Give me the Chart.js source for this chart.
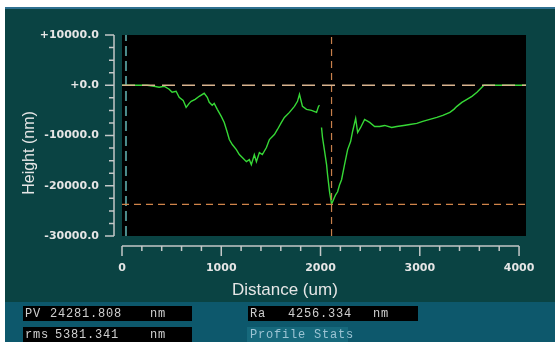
<!DOCTYPE html>
<html>
<head>
<meta charset="utf-8">
<script src="https://cdn.jsdelivr.net/npm/chart.js@4"></script>
<style>
  body { margin: 0; background: #fff; width: 555px; height: 342px; overflow: hidden; position: relative; }
  #frame { position: absolute; left: 5px; top: 7px; width: 550px; height: 335px; background: #0a4343; border-top: 2px solid #2f7090; box-sizing: border-box; }
  #stats { position: absolute; left: 5px; top: 302px; width: 550px; height: 40px; background: #0d586c; }
  canvas { position: absolute; left: 0; top: 0; }
  .box { position: absolute; background: #000; height: 15px; }
  .t { position: absolute; font: 12px "Liberation Mono", monospace; letter-spacing: 0.8px; color: #d0d0d0; top: 1px; white-space: pre; }
  .title { position: absolute; font: 17px "Liberation Sans", Arial, sans-serif; color: #e6e6e6; white-space: nowrap; }
</style>
</head>
<body>
<div id="frame"></div>
<div id="stats"></div>
<canvas id="profile" width="555" height="342"></canvas>

<div class="title" style="left:232px; top:280px;">Distance (um)</div>
<div class="title" style="font-size:16px; left:-31px; top:144px; width:120px; text-align:center; transform:rotate(-90deg);">Height (nm)</div>

<div class="box" style="left:23px; top:306px; width:169px;">
  <span class="t" style="left:2px">PV</span><span class="t" style="left:27px">24281.808</span><span class="t" style="left:127px">nm</span>
</div>
<div class="box" style="left:23px; top:327px; width:169px;">
  <span class="t" style="left:2px">rms</span><span class="t" style="left:32px">5381.341</span><span class="t" style="left:127px">nm</span>
</div>
<div class="box" style="left:248px; top:306px; width:170px;">
  <span class="t" style="left:2px">Ra</span><span class="t" style="left:40px">4256.334</span><span class="t" style="left:125px">nm</span>
</div>
<div class="box" style="left:247px; top:327px; width:101px; background:#16697c;">
  <span class="t" style="left:3px; color:#9cc4d4">Profile Stats</span>
</div>

<script>
// ---------- data (distance in um, height in nm) ----------
const distance = [0, 121, 253, 323, 374, 424, 475, 505, 545, 576, 616, 646, 677, 697, 737, 778, 828, 859, 879, 909,
  929, 960, 1000, 1030, 1061, 1081, 1111, 1152, 1182, 1212, 1253, 1283, 1303, 1333, 1354, 1384, 1414, 1455, 1485, 1535,
  1566, 1606, 1636, 1687, 1737, 1768, 1788, 1818, 1859, 1909, 1960, 1980, 1990, 2000,
  2010, 2020, 2040, 2061, 2071, 2091, 2111, 2121, 2152, 2172, 2192, 2212, 2242, 2273, 2303, 2323, 2354, 2374, 2404, 2444,
  2495, 2545, 2596, 2646, 2717, 2768, 2838, 2899, 2970, 3030, 3101, 3172, 3232, 3303, 3343, 3374, 3424, 3475, 3525, 3576,
  3616, 3646, 3677, 3808, 4070];
const height = [0, 0, 0, -200, -400, -200, -800, -1400, -1200, -2400, -3000, -4400, -3600, -3200, -2800, -2200, -1600, -2400, -3400, -4000,
  -3600, -4800, -6200, -7400, -9400, -10800, -11800, -12800, -13800, -14400, -15200, -14800, -15800, -13800, -15200, -13400, -13800, -12400, -10800, -9800,
  -8800, -7400, -6400, -5400, -4200, -3200, -1800, -4200, -4800, -5000, -5400, -4200, -4000, null,
  -8400, -10400, -13000, -15800, -17800, -21200, -23600, -23200, -21800, -21200, -19800, -18800, -15800, -12800, -11200, -9200, -6600, -9400, -8400, -6800,
  -7400, -8200, -8200, -8000, -8400, -8200, -8000, -7800, -7600, -7200, -6800, -6400, -6000, -5400, -4800, -4200, -3400, -2800, -2200, -1400,
  -600, 0, 0, 0, 0];

// cursors / reference lines
const zeroLineX = [0, 4070];
const zeroLineY = [0, 0];
const lowCursorY = -23700;
const peakCursorX = 2111;
const leftCursorX = 40;

// tick labels
const xTicks = [0, 1000, 2000, 3000, 4000];
const yTicks = [10000, 0, -10000, -20000, -30000];
const xRange = [0, 4070];
const yRange = [-30000, 10000];

const pts = (xs, ys) => xs.map((x, i) => ({ x, y: ys[i] }));

// ---------- plugins ----------
const plotBg = {
  id: 'plotBg',
  beforeDraw(chart) {
    const { ctx, chartArea: a } = chart;
    ctx.save();
    ctx.fillStyle = '#000';
    ctx.fillRect(a.left, a.top, a.right - a.left, a.bottom - a.top);
    ctx.restore();
  }
};

// axis lines sit outside the black plot, like the instrument software
const axes = {
  id: 'axes',
  afterDraw(chart) {
    const { ctx } = chart;
    const xs = chart.scales.x, ys = chart.scales.y;
    ctx.save();
    ctx.strokeStyle = '#c4c8c8';
    ctx.lineWidth = 1.5;
    // y axis
    const ax = 114;
    ctx.beginPath();
    ctx.moveTo(ax, ys.getPixelForValue(yTicks[0]));
    ctx.lineTo(ax, ys.getPixelForValue(yTicks[yTicks.length - 1]));
    for (let v = yRange[0]; v <= yRange[1]; v += 2500) {
      const p = ys.getPixelForValue(v);
      ctx.moveTo(ax, p);
      ctx.lineTo(ax - (v % 10000 === 0 ? 9 : 5), p);
    }
    // x axis
    const ay = 246;
    ctx.moveTo(xs.getPixelForValue(xTicks[0]), ay);
    ctx.lineTo(xs.getPixelForValue(xTicks[xTicks.length - 1]), ay);
    for (let v = 0; v <= 4000; v += 200) {
      const p = xs.getPixelForValue(v);
      ctx.moveTo(p, ay);
      ctx.lineTo(p, ay + (v % 1000 === 0 ? 10 : 5));
    }
    ctx.stroke();
    ctx.restore();
  }
};

const tickFont = { family: 'DejaVu Sans', size: 11, weight: 'bold' };

new Chart(document.getElementById('profile'), {
  type: 'line',
  data: {
    datasets: [
      { data: pts(zeroLineX, zeroLineY), borderColor: '#d9b48f', borderWidth: 1.5, borderDash: [13, 7] },
      { data: pts(zeroLineX, [lowCursorY, lowCursorY]), borderColor: '#d0844a', borderWidth: 1.2, borderDash: [7, 5] },
      { data: pts([peakCursorX, peakCursorX], yRange), borderColor: '#c8804c', borderWidth: 1.2, borderDash: [7, 5] },
      { data: pts([leftCursorX, leftCursorX], yRange), borderColor: '#4d8c8c', borderWidth: 2, borderDash: [10, 5] },
      { data: pts(distance, height), borderColor: '#36d836', borderWidth: 1.4, spanGaps: false }
    ]
  },
  options: {
    responsive: false,
    animation: false,
    events: [],
    elements: { point: { radius: 0 }, line: { tension: 0 } },
    layout: { padding: { top: 35, right: 29, left: 0, bottom: 0 } },
    plugins: { legend: { display: false }, tooltip: { enabled: false } },
    scales: {
      x: {
        type: 'linear', min: xRange[0], max: xRange[1],
        afterFit: s => { s.height = 106; s.paddingLeft = 0; s.paddingRight = 0; },
        afterBuildTicks: s => { s.ticks = xTicks.map(v => ({ value: v })); },
        grid: { display: false, drawTicks: false },
        border: { display: false },
        ticks: { color: '#e6e6e6', font: tickFont, padding: 26, maxRotation: 0, callback: v => String(v) }
      },
      y: {
        type: 'linear', min: yRange[0], max: yRange[1],
        afterFit: s => { s.width = 122; s.paddingTop = 0; s.paddingBottom = 0; },
        afterBuildTicks: s => { s.ticks = yTicks.map(v => ({ value: v })); },
        grid: { display: false, drawTicks: false },
        border: { display: false },
        ticks: { color: '#e6e6e6', font: tickFont, padding: 23, callback: v => (v >= 0 ? '+' : '') + v.toFixed(1) }
      }
    }
  },
  plugins: [plotBg, axes]
});
</script>
</body>
</html>
